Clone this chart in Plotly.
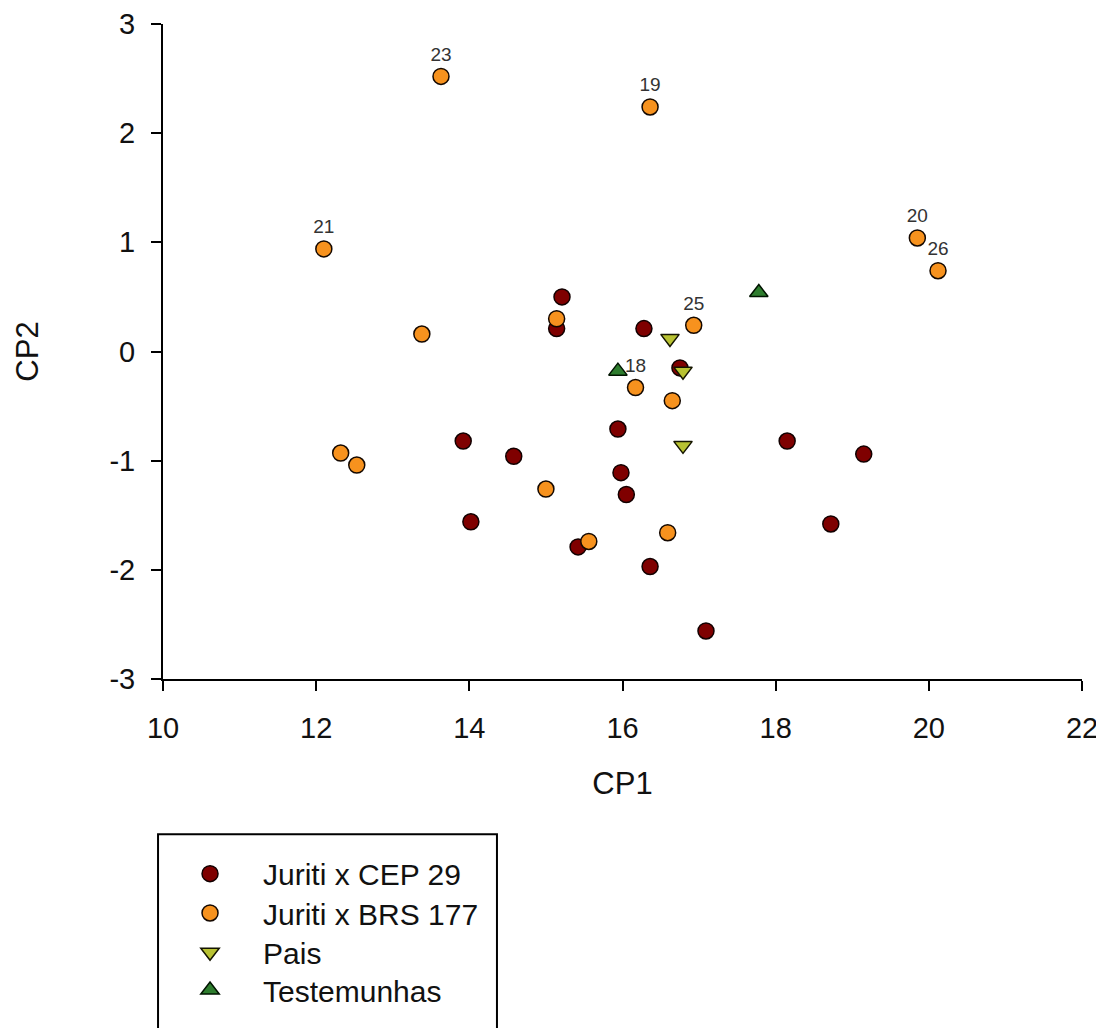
import plotly.graph_objects as go

# Juriti x CEP 29
cep_x = [15.21, 15.14, 16.28, 16.75, 13.92, 14.58, 14.02, 15.94, 15.98, 16.05, 15.42, 16.36, 17.09, 18.15, 18.72, 19.15]
cep_y = [0.50, 0.21, 0.21, -0.15, -0.82, -0.96, -1.56, -0.71, -1.11, -1.31, -1.79, -1.97, -2.56, -0.82, -1.58, -0.94]

# Juriti x BRS 177
brs_x = [13.63, 16.36, 12.10, 19.85, 20.12, 15.14, 13.38, 16.93, 16.17, 16.65, 12.32, 12.53, 15.00, 15.56, 16.59]
brs_y = [2.52, 2.24, 0.94, 1.04, 0.74, 0.30, 0.16, 0.24, -0.33, -0.45, -0.93, -1.04, -1.26, -1.74, -1.66]
brs_lab = ["23", "19", "21", "20", "26", "", "", "25", "18", "", "", "", "", "", ""]

# Pais
pais_x = [16.62, 16.79, 16.79]
pais_y = [0.12, -0.18, -0.86]

# Testemunhas
test_x = [15.94, 17.78]
test_y = [-0.18, 0.54]

# Axis ticks
x_ticks = [10, 12, 14, 16, 18, 20, 22]
x_ticktext = ["10", "12", "14", "16", "18", "20", "22"]
y_ticks = [-3, -2, -1, 0, 1, 2, 3]
y_ticktext = ["-3", "-2", "-1", "0", "1", "2", "3"]

FONT = "Liberation Sans, Arial, sans-serif"

# figure is placed at an 8px body margin in the page
W, H = 1096, 1020
ML, MR, MT, MB = 155, 22, 16, 342

fig = go.Figure()
fig.add_trace(go.Scatter(x=cep_x, y=cep_y, mode="markers", name="Juriti x CEP 29",
                         legend="legend",
                         marker=dict(symbol="circle", size=16, color="#7F0000",
                                     line=dict(color="#120000", width=1.5))))
fig.add_trace(go.Scatter(x=brs_x, y=brs_y, mode="markers+text", name="Juriti x BRS 177",
                         legend="legend2",
                         text=brs_lab, textposition="top center",
                         textfont=dict(size=19, color="#333333", family=FONT),
                         marker=dict(symbol="circle", size=16, color="#F7921E",
                                     line=dict(color="#140800", width=1.5))))
fig.add_trace(go.Scatter(x=pais_x, y=pais_y, mode="markers", name="Pais",
                         legend="legend3",
                         marker=dict(symbol="triangle-down", size=16, color="#B8C232",
                                     line=dict(color="#141400", width=1.5))))
fig.add_trace(go.Scatter(x=test_x, y=test_y, mode="markers", name="Testemunhas",
                         legend="legend4",
                         marker=dict(symbol="triangle-up", size=16, color="#2E7D2E",
                                     line=dict(color="#001400", width=1.5))))

axis_common = dict(showgrid=False, zeroline=False, showline=True, linecolor="black",
                   linewidth=2, ticks="outside", ticklen=10, tickwidth=2, tickcolor="black",
                   tickfont=dict(size=29, color="#111111", family=FONT), mirror=False,
                   automargin=False)

leg_common = dict(xanchor="left", yanchor="top", x=-0.0065,
                  font=dict(size=30, family=FONT, color="#111111"),
                  bgcolor="rgba(0,0,0,0)", borderwidth=0, itemwidth=96)

fig.update_layout(
    template="none",
    width=W, height=H,
    margin=dict(l=ML, r=MR, t=MT, b=MB),
    paper_bgcolor="white", plot_bgcolor="white",
    font=dict(family=FONT, color="black"),
    xaxis=dict(range=[10, 22], tickvals=x_ticks, ticktext=x_ticktext,
               ticklabelstandoff=12,
               title=dict(text="CP1", font=dict(size=31, family=FONT, color="#111111"), standoff=30),
               **axis_common),
    yaxis=dict(range=[-3, 3], tickvals=y_ticks, ticktext=y_ticktext,
               ticklabelstandoff=10,
               title=dict(text="CP2", font=dict(size=31, family=FONT, color="#111111"), standoff=62),
               **axis_common),
    legend=dict(y=-0.2575, **leg_common),
    legend2=dict(y=-0.3175, **leg_common),
    legend3=dict(y=-0.3775, **leg_common),
    legend4=dict(y=-0.4350, **leg_common),
    showlegend=True,
    shapes=[dict(type="rect", xref="paper", yref="paper",
                 x0=-0.0054, x1=0.3634, y0=-0.62, y1=-0.2372,
                 line=dict(color="black", width=2), fillcolor="rgba(0,0,0,0)")],
)

fig.write_html("out.html")
